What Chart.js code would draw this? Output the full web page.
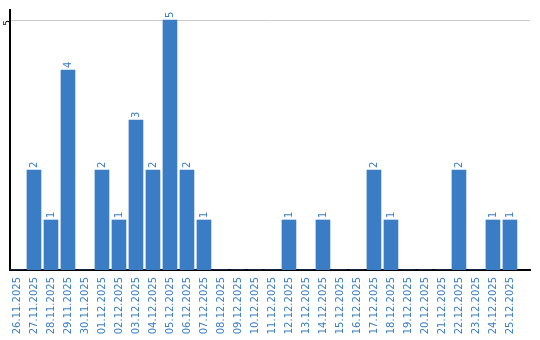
<!DOCTYPE html>
<html>
<head>
<meta charset="utf-8">
<script src="https://cdn.jsdelivr.net/npm/chart.js@4"></script>
<style>
  html, body { margin: 0; padding: 0; background: #fff; }
  #wrap { width: 540px; height: 340px; }
</style>
</head>
<body>
<div id="wrap"><canvas id="countChart"></canvas></div>
<script>
const days = [
  '26.11.2025', '27.11.2025', '28.11.2025', '29.11.2025', '30.11.2025',
  '01.12.2025', '02.12.2025', '03.12.2025', '04.12.2025', '05.12.2025',
  '06.12.2025', '07.12.2025', '08.12.2025', '09.12.2025', '10.12.2025',
  '11.12.2025', '12.12.2025', '13.12.2025', '14.12.2025', '15.12.2025',
  '16.12.2025', '17.12.2025', '18.12.2025', '19.12.2025', '20.12.2025',
  '21.12.2025', '22.12.2025', '23.12.2025', '24.12.2025', '25.12.2025'
];
const counts = [0, 2, 1, 4, 0, 2, 1, 3, 2, 5, 2, 1, 0, 0, 0, 0, 1, 0, 1, 0, 0, 2, 1, 0, 0, 0, 2, 0, 1, 1];
const yTicks = [5];

const blue = '#3b7dc4';
const font = { family: 'DejaVu Sans', size: 10 };

// value labels above the bars, rotated like the axis labels
const barLabels = {
  id: 'barLabels',
  afterDatasetsDraw(chart) {
    const ctx = chart.ctx;
    const meta = chart.getDatasetMeta(0);
    ctx.save();
    ctx.fillStyle = blue;
    ctx.font = '10px "DejaVu Sans"';
    ctx.textAlign = 'left';
    ctx.textBaseline = 'middle';
    meta.data.forEach((bar, i) => {
      if (!counts[i]) return;
      ctx.save();
      ctx.translate(bar.x, bar.y - 2);
      ctx.rotate(-Math.PI / 2);
      ctx.fillText(String(counts[i]), 0, 0);
      ctx.restore();
    });
    ctx.restore();
  }
};

new Chart(document.getElementById('countChart'), {
  type: 'bar',
  data: {
    datasets: [{
      data: counts.map((v, i) => ({ x: i, y: v })),
      backgroundColor: blue,
      barThickness: 14,
      borderWidth: 0
    }]
  },
  plugins: [barLabels],
  options: {
    responsive: true,
    maintainAspectRatio: false,
    animation: false,
    layout: { padding: { top: 10, right: 10, left: 0, bottom: 0 } },
    plugins: { legend: { display: false }, tooltip: { enabled: false } },
    scales: {
      x: {
        type: 'linear',
        offset: false,
        min: -0.41,
        max: 30.18,
        grid: { display: false, drawTicks: false, offset: false },
        border: { color: '#000', width: 2 },
        afterBuildTicks: s => { s.ticks = days.map((d, i) => ({ value: i })); },
        afterFit: s => { s.height = 70; s.paddingLeft = 0; s.paddingRight = 0; },
        ticks: {
          autoSkip: false,
          minRotation: 90,
          maxRotation: 90,
          padding: 7,
          color: blue,
          font: font,
          callback: v => days[v] || ''
        }
      },
      y: {
        min: 0,
        max: 5.2,
        grid: { color: '#cccccc', lineWidth: 1, drawTicks: false },
        border: { color: '#000', width: 2 },
        afterBuildTicks: s => { s.ticks = yTicks.map(v => ({ value: v })); },
        afterFit: s => { s.width = 10; s.paddingTop = 0; s.paddingBottom = 0; },
        ticks: {
          minRotation: 90,
          maxRotation: 90,
          padding: 2,
          color: '#000',
          font: { family: 'DejaVu Sans', size: 9 }
        }
      }
    }
  }
});
</script>
</body>
</html>
